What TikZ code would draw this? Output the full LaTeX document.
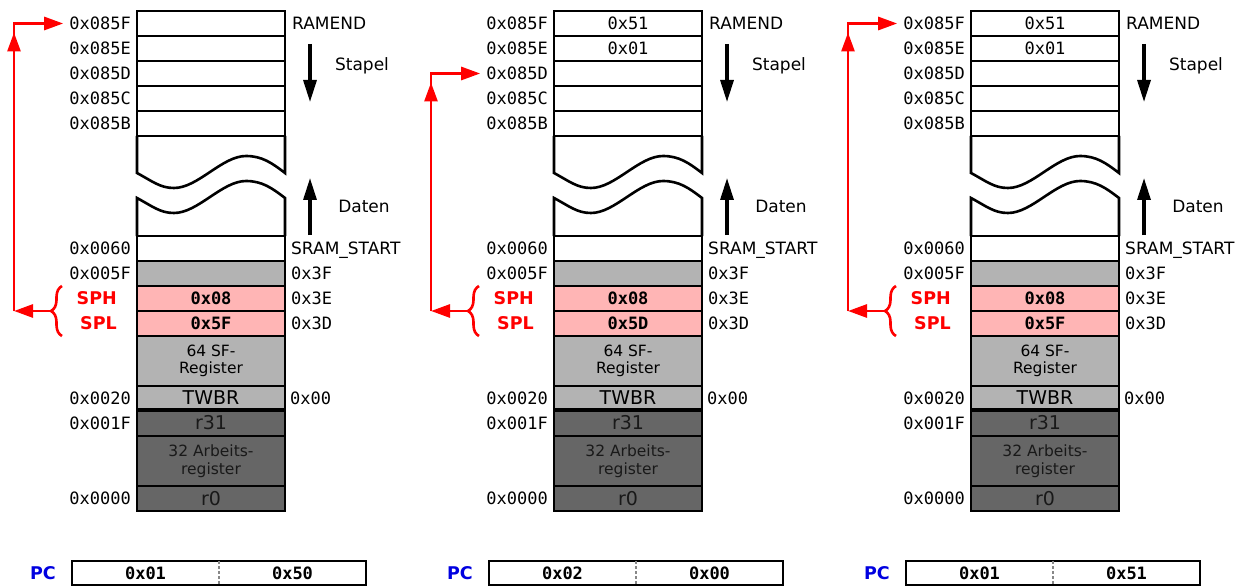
\documentclass[tikz,border=0pt]{standalone}
\usepackage{fontspec}
\setmainfont{DejaVu Sans}
\setmonofont{DejaVu Sans Mono}
\usepackage{tikz}
\usetikzlibrary{calc,arrows.meta}
\usetikzlibrary{decorations.pathreplacing}
\usetikzlibrary{positioning}
\definecolor{mem-io}{HTML}{B3B3B3}
\definecolor{mem-sp}{HTML}{FFB5B5}
\definecolor{mem-reg}{HTML}{666666}
\definecolor{mem-ptr}{HTML}{FF0000}
\definecolor{mem-pc}{HTML}{0000E0}
\definecolor{mem-dash}{HTML}{888888}

\begin{document}
\begin{tikzpicture}[
    x=1pt, y=-1pt,
    font=\fontsize{17}{20}\selectfont,
    >={Triangle[length=19pt,width=13pt]}
  ]
  \tikzset{
    cell/.style={draw, line width=2.6pt, fill=white, minimum width=148pt, minimum height=25pt, inner sep=0pt, outer sep=0pt, font=\ttfamily\fontsize{17}{20}\selectfont},
    iocell/.style={cell, fill=mem-io},
    spcell/.style={cell, fill=mem-sp, font=\ttfamily\bfseries\fontsize{17}{20}\selectfont},
    regcell/.style={cell, fill=mem-reg, text=black!90},
    boxtext/.style={align=center, font=\fontsize{15.5}{17.5}\selectfont},
    bigtext/.style={font=\fontsize{19}{21}\selectfont},
    addr/.style={inner sep=0pt, text height=12.5pt, text depth=0pt, font=\ttfamily\fontsize{17}{20}\selectfont},
    plainlabel/.style={inner sep=0pt, text height=12.5pt, text depth=0pt},
    spname/.style={inner sep=0pt, text height=12.5pt, text depth=0pt, text=mem-ptr, font=\bfseries\fontsize{17.5}{20}\selectfont},
    pcname/.style={inner sep=0pt, text=mem-pc, font=\bfseries\fontsize{17.5}{20}\selectfont},
    pcbyte/.style={minimum width=147pt, minimum height=24pt, inner sep=0pt, outer sep=0pt, font=\ttfamily\bfseries\fontsize{17}{20}\selectfont},
    border/.style={line width=2.6pt},
    divider/.style={mem-dash, line width=2.5pt, dash pattern=on 3pt off 2pt},
    flow/.style={-{Triangle[length=22pt,width=13pt]}, line width=3.2pt},
    ptr/.style={mem-ptr, line width=2.8pt},
    spbrace/.style={mem-ptr, line width=2.6pt, decorate, decoration={brace, amplitude=11pt}}
  }

  \useasboundingbox (0,0) rectangle (1252,588);

  \foreach \col/\vf/\ve/\spl/\pch/\pcl/\tgt in
      {0/{}/{}/0x5F/0x01/0x50/085F,
       1/0x51/0x01/0x5D/0x02/0x00/085D,
       2/0x51/0x01/0x5F/0x01/0x51/085F}{
  \begin{scope}[xshift=\col*417pt]
    % Stapel (oben)
    \node[cell] (r085F-\col) at (211,23.5) {\vf};
    \node[cell, below=0pt of r085F-\col] (r085E-\col) {\ve};
    \node[cell, below=0pt of r085E-\col] (r085D-\col) {};
    \node[cell, below=0pt of r085D-\col] (r085C-\col) {};
    \node[cell, below=0pt of r085C-\col] (r085B-\col) {};

    % SRAM-Anfang und Register (unten)
    \node[cell, below=100pt of r085B-\col] (r0060-\col) {};
    \node[iocell, below=0pt of r0060-\col] (r005F-\col) {};
    \node[spcell, below=0pt of r005F-\col] (rSPH-\col) {0x08};
    \node[spcell, below=0pt of rSPH-\col] (rSPL-\col) {\spl};
    \node[iocell, boxtext, minimum height=50pt, below=0pt of rSPL-\col] (rSF-\col) {64 SF-\\Register};
    \node[iocell, bigtext, minimum height=24pt, below=0pt of rSF-\col] (rTWBR-\col) {TWBR};
    \node[regcell, bigtext, minimum height=26pt, below=0pt of rTWBR-\col] (r31-\col) {r31};
    \node[regcell, boxtext, minimum height=50pt, below=0pt of r31-\col] (rArb-\col) {32 Arbeits-\\register};
    \node[regcell, bigtext, below=0pt of rArb-\col] (r0-\col) {r0};
    \draw[line width=4.5pt] (rTWBR-\col.south west) -- (rTWBR-\col.south east);

    % Bruchkanten
    \draw[border] (r085B-\col.south west) -- (137,173)
      .. controls (152,181) and (160,188) .. (174,188)
      .. controls (198,188) and (222,156) .. (246,156)
      .. controls (262,156) and (272,163) .. (285,173) -- (r085B-\col.south east);
    \draw[border] (r0060-\col.north west) -- (137,198)
      .. controls (152,206) and (160,213) .. (174,213)
      .. controls (198,213) and (222,181) .. (246,181)
      .. controls (262,181) and (272,188) .. (285,198) -- (r0060-\col.north east);

    % Adressen links
    \node[addr, left=6pt of r085F-\col] (a085F-\col) {0x085F};
    \node[addr, left=6pt of r085E-\col] (a085E-\col) {0x085E};
    \node[addr, left=6pt of r085D-\col] (a085D-\col) {0x085D};
    \node[addr, left=6pt of r085C-\col] (a085C-\col) {0x085C};
    \node[addr, left=6pt of r085B-\col] (a085B-\col) {0x085B};
    \node[addr, left=6pt of r0060-\col] (a0060-\col) {0x0060};
    \node[addr, left=6pt of r005F-\col] (a005F-\col) {0x005F};
    \node[addr, left=6pt of rTWBR-\col] (a0020-\col) {0x0020};
    \node[addr, left=6pt of r31-\col] (a001F-\col) {0x001F};
    \node[addr, left=6pt of r0-\col] (a0000-\col) {0x0000};
    \node[spname, left=20pt of rSPH-\col] (nSPH-\col) {SPH};
    \node[spname, left=20pt of rSPL-\col] (nSPL-\col) {SPL};

    % Bezeichnungen rechts
    \node[plainlabel, right=7pt of r085F-\col] (ramend-\col) {RAMEND};
    \node[plainlabel, right=6pt of r0060-\col] (sramstart-\col) {SRAM\_START};
    \node[addr, right=6pt of r005F-\col] (io3F-\col) {0x3F};
    \node[addr, right=6pt of rSPH-\col] (io3E-\col) {0x3E};
    \node[addr, right=6pt of rSPL-\col] (io3D-\col) {0x3D};
    \node[addr, right=5pt of rTWBR-\col] (io00-\col) {0x00};

    % Wachstumsrichtung
    \coordinate (stapelA-\col) at (310,44);
    \coordinate (stapelB-\col) at (310,102);
    \draw[flow] (stapelA-\col) -- (stapelB-\col);
    \node[plainlabel] (stapel-\col) at (362,64) {Stapel};
    \coordinate (datenA-\col) at (310,235);
    \coordinate (datenB-\col) at (310,178);
    \draw[flow] (datenA-\col) -- (datenB-\col);
    \node[plainlabel] (daten-\col) at (364,206) {Daten};

    % Stackpointer
    \draw[spbrace] (62,336) -- (62,286);
    \coordinate (spTip-\col) at (50,311);
    \coordinate (spBend-\col) at (14,311);
    \coordinate (spTop-\col) at (spBend-\col |- a\tgt-\col.west);
    \draw[ptr, ->] (spTip-\col) -- (spBend-\col);
    \draw[ptr, ->, shorten >=6pt] (spBend-\col) |- (a\tgt-\col.west);
    \draw[ptr, ->, shorten >=9pt] (spBend-\col) -- (spTop-\col);

    % Programmzaehler
    \node[pcbyte] (pch-\col) at (145.5,573) {\pch};
    \node[pcbyte, right=0pt of pch-\col] (pcl-\col) {\pcl};
    \draw[border] (pch-\col.north west) rectangle (pcl-\col.south east);
    \draw[divider] (pch-\col.north east) -- (pch-\col.south east);
    \node[pcname, left=16pt of pch-\col] (pc-\col) {PC};
  \end{scope}
  }
\end{tikzpicture}
\end{document}
